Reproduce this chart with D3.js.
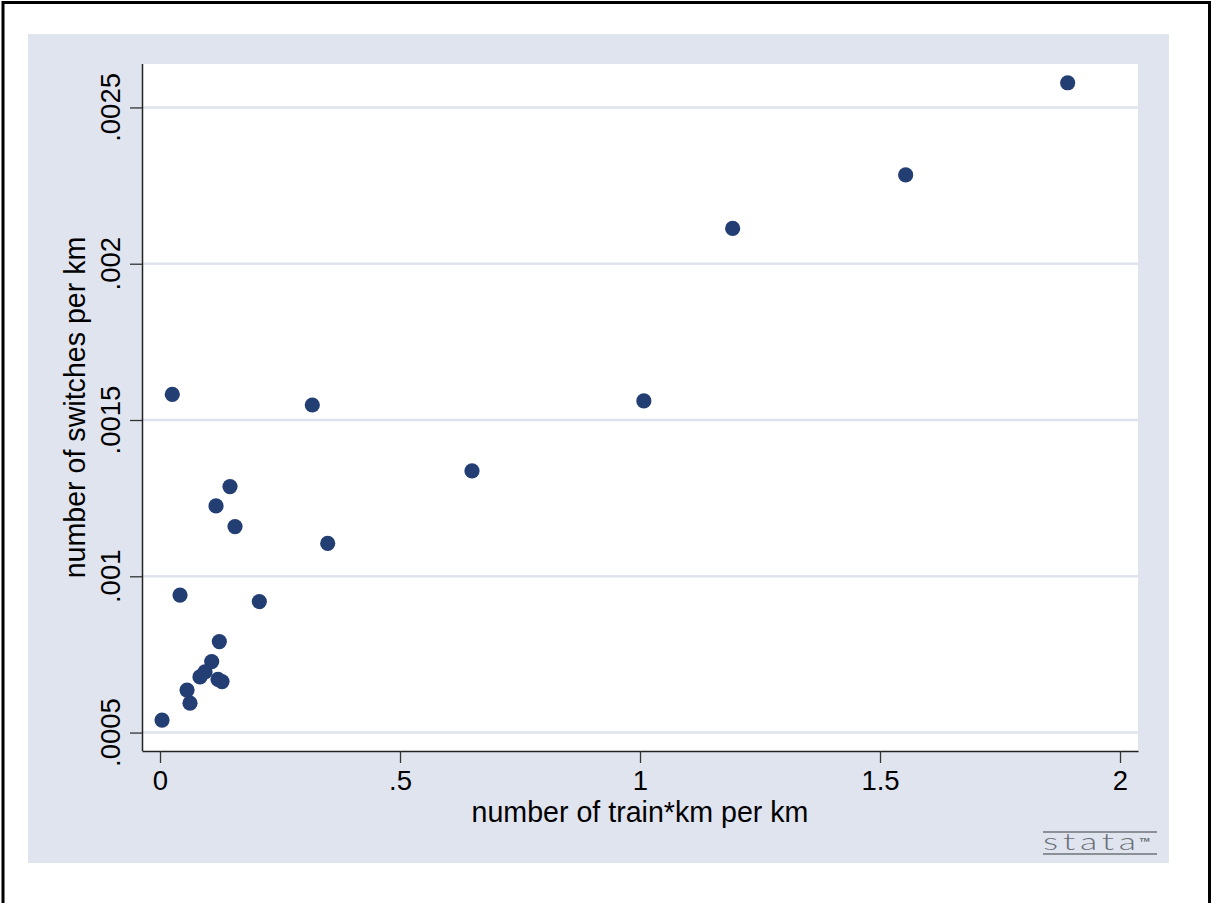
<!DOCTYPE html>
<html>
<head>
<meta charset="utf-8">
<script src="https://cdn.jsdelivr.net/npm/d3@7"></script>
<style>
  html, body { margin: 0; padding: 0; background: #ffffff; }
  svg { display: block; }
  text { font-family: "Liberation Sans", Arial, sans-serif; fill: #000; }
</style>
</head>
<body>
<svg id="chart" width="1211" height="903"></svg>
<script>
// Train traffic density vs. switch density
const trainKmPerKm = [
  1.891, 1.5535, 1.193, 1.008, 0.650, 0.3173, 0.3494, 0.0256, 0.1458, 0.1167,
  0.1563, 0.0417, 0.2069, 0.1236, 0.1077, 0.0833, 0.0938, 0.1208, 0.1292,
  0.0563, 0.0625, 0.0042
];
const switchesPerKm = [
  0.002579, 0.002284, 0.002113, 0.001561, 0.001337, 0.001548, 0.001105, 0.001582,
  0.001287, 0.001225, 0.001159, 0.000940, 0.000919, 0.000791, 0.000727, 0.000678,
  0.000694, 0.000670, 0.000663, 0.000636, 0.000594, 0.000540
];

const xTickValues = [0, 0.5, 1, 1.5, 2];
const xTickLabels = ["0", ".5", "1", "1.5", "2"];
const yTickValues = [0.0005, 0.001, 0.0015, 0.002, 0.0025];
const yTickLabels = [".0005", ".001", ".0015", ".002", ".0025"];

const xTitle = "number of train*km per km";
const yTitle = "number of switches per km";

const svg = d3.select("#chart");

// outer frame
svg.append("path")
  .attr("d", "M3,903 V2.5 H1209.5 V903")
  .attr("fill", "none")
  .attr("stroke", "#000")
  .attr("stroke-width", 3);

// graph region
svg.append("rect")
  .attr("x", 28).attr("y", 34)
  .attr("width", 1141).attr("height", 829)
  .attr("fill", "#e0e4ef");

const plot = { left: 142, top: 64, right: 1138, bottom: 751 };

const x = d3.scaleLinear()
  .domain([-0.0375, 2.0375])
  .range([plot.left, plot.right]);
const y = d3.scaleLinear()
  .domain([0.000441, 0.002639])
  .range([plot.bottom, plot.top]);

// plot region
svg.append("rect")
  .attr("x", plot.left).attr("y", plot.top)
  .attr("width", plot.right - plot.left).attr("height", plot.bottom - plot.top)
  .attr("fill", "#ffffff");

// horizontal grid lines
svg.append("g")
  .selectAll("line")
  .data(yTickValues)
  .join("line")
  .attr("x1", plot.left).attr("x2", plot.right)
  .attr("y1", d => y(d)).attr("y2", d => y(d))
  .attr("stroke", "#dfe3ee")
  .attr("stroke-width", 2.5);

// x axis
const xAxis = svg.append("g")
  .attr("transform", `translate(0,${plot.bottom})`)
  .call(d3.axisBottom(x)
    .tickValues(xTickValues)
    .tickFormat((d, i) => xTickLabels[i])
    .tickSize(12)
    .tickSizeOuter(0)
    .tickPadding(7));
xAxis.select(".domain").attr("stroke", "#222").attr("stroke-width", 1.5);
xAxis.selectAll(".tick line").attr("stroke", "#333").attr("stroke-width", 1.3);
xAxis.selectAll(".tick text")
  .attr("font-size", 27.5)
  .attr("font-family", "'Liberation Sans', Arial, sans-serif")
  .attr("fill", "#000");

// y axis
const yAxis = svg.append("g")
  .attr("transform", `translate(${plot.left},0)`)
  .call(d3.axisLeft(y)
    .tickValues(yTickValues)
    .tickFormat("")
    .tickSize(12)
    .tickSizeOuter(0));
yAxis.select(".domain").attr("stroke", "#222").attr("stroke-width", 1.5)
  .attr("d", `M0.5,${plot.top}V${plot.bottom}`);
yAxis.selectAll(".tick line").attr("stroke", "#333").attr("stroke-width", 1.3);

// vertical y tick labels
svg.append("g")
  .selectAll("text")
  .data(yTickValues)
  .join("text")
  .attr("transform", d => `translate(120,${y(d)}) rotate(-90)`)
  .attr("text-anchor", "middle")
  .attr("font-size", 27.5)
  .text((d, i) => yTickLabels[i]);

// axis titles
svg.append("text")
  .attr("x", (plot.left + plot.right) / 2)
  .attr("y", 822)
  .attr("text-anchor", "middle")
  .attr("font-size", 28.6)
  .attr("fill", "#111")
  .text(xTitle);

svg.append("text")
  .attr("transform", `translate(85,${(plot.top + plot.bottom) / 2}) rotate(-90)`)
  .attr("text-anchor", "middle")
  .attr("font-size", 28.6)
  .attr("fill", "#111")
  .text(yTitle);

// markers
const points = trainKmPerKm.map((v, i) => ({ x: v, y: switchesPerKm[i] }));
svg.append("g")
  .selectAll("circle")
  .data(points)
  .join("circle")
  .attr("cx", d => x(d.x))
  .attr("cy", d => y(d.y))
  .attr("r", 7.6)
  .attr("fill", "#233e72");

// stata logo
const logo = svg.append("g").attr("fill", "none");
logo.append("line").attr("x1", 1043).attr("x2", 1157).attr("y1", 832).attr("y2", 832)
  .attr("stroke", "#8a9096").attr("stroke-width", 2);
logo.append("line").attr("x1", 1043).attr("x2", 1157).attr("y1", 854).attr("y2", 854)
  .attr("stroke", "#8a9096").attr("stroke-width", 2);
svg.append("text")
  .attr("transform", "translate(1043,850) scale(1.55,1)")
  .attr("font-size", 23)
  .attr("font-weight", 300)
  .style("font-family", "Lato, 'DejaVu Sans', sans-serif")
  .style("fill", "#6a7076")
  .attr("textLength", 60)
  .attr("lengthAdjust", "spacing")
  .text("stata");
svg.append("text")
  .attr("x", 1139).attr("y", 846)
  .attr("font-size", 12)
  .attr("font-weight", "bold")
  .style("fill", "#6a7076")
  .text("™");
</script>
</body>
</html>
